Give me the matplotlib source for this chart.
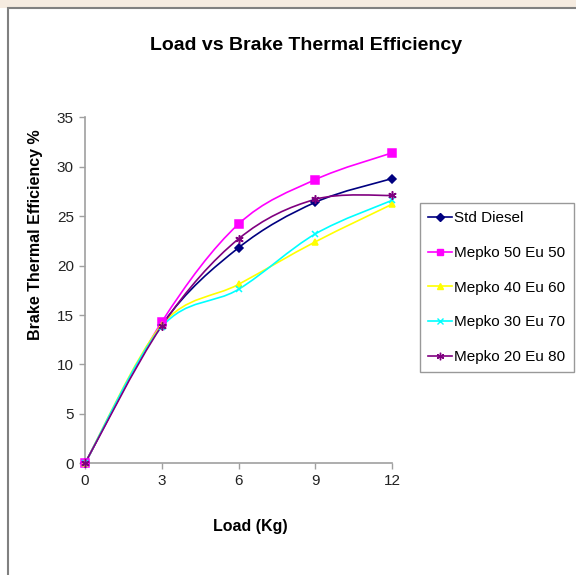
import matplotlib
matplotlib.use("Agg")
import matplotlib.pyplot as plt
from matplotlib.path import Path
from matplotlib.patches import PathPatch, Rectangle
from matplotlib.lines import Line2D
import numpy as np

plt.rcParams['font.family'] = ['Liberation Sans', 'DejaVu Sans']

load = [0, 3, 6, 9, 12]
std_diesel = [0, 14.0, 21.8, 26.4, 28.8]
mepko_50_eu_50 = [0, 14.3, 24.2, 28.7, 31.4]
mepko_40_eu_60 = [0, 14.0, 18.1, 22.4, 26.2]
mepko_30_eu_70 = [0, 13.8, 17.6, 23.2, 26.6]
mepko_20_eu_80 = [0, 13.9, 22.7, 26.7, 27.1]

series_names = ["Std Diesel", "Mepko 50 Eu 50", "Mepko 40 Eu 60",
                "Mepko 30 Eu 70", "Mepko 20 Eu 80"]
series_values = [std_diesel, mepko_50_eu_50, mepko_40_eu_60,
                 mepko_30_eu_70, mepko_20_eu_80]
colors = ["#000080", "#FF00FF", "#FFFF00", "#00FFFF", "#800080"]
markers = ["D", "s", "^", "x", (6, 2, 0)]
msizes = [4, 5.5, 5, 5, 6]

W, H = 576, 575
fig = plt.figure(figsize=(W / 100, H / 100), dpi=100)
fig.patch.set_facecolor("white")

# faint background above the chart frame
fig.patches.append(Rectangle((0, 1 - 8 / H), 1, 8 / H, transform=fig.transFigure,
                             facecolor="#f5ebe0", edgecolor="none", zorder=0))
# chart frame
fig.patches.append(Rectangle((7.5 / W, -0.05), 1.1, 1.05 - 8 / H,
                             transform=fig.transFigure, facecolor="none",
                             edgecolor="#808080", linewidth=1.5, zorder=1))

ax = fig.add_axes([85 / W, 1 - 463.3 / H, (392 - 85) / W, (463.3 - 117.3) / H])
ax.set_xlim(0, 12)
ax.set_ylim(0, 35)


def smooth_path(xs, ys):
    pts = np.column_stack([xs, ys]).astype(float)
    n = len(pts)
    verts = [pts[0]]
    codes = [Path.MOVETO]
    for i in range(n - 1):
        p0 = pts[i - 1] if i > 0 else pts[i]
        p1 = pts[i]
        p2 = pts[i + 1]
        p3 = pts[i + 2] if i + 2 < n else pts[i + 1]
        c1 = p1 + (p2 - p0) / 6.0
        c2 = p2 - (p3 - p1) / 6.0
        verts += [c1, c2, p2]
        codes += [Path.CURVE4] * 3
    return Path(verts, codes)


handles = []
for name, vals, c, m, ms in zip(series_names, series_values, colors, markers, msizes):
    ax.add_patch(PathPatch(smooth_path(load, vals), facecolor="none",
                           edgecolor=c, linewidth=1.2, clip_on=False, zorder=3))
    ax.plot(load, vals, linestyle="none", marker=m, color=c, markersize=ms,
            markeredgewidth=1.1, clip_on=False, zorder=4)
    handles.append(Line2D([], [], color=c, marker=m, markersize=ms * 0.9,
                          linewidth=1.2, markeredgewidth=1.0, label=name))

ax.set_xticks(load)
ax.set_yticks(range(0, 36, 5))
for s in ["top", "right"]:
    ax.spines[s].set_visible(False)
for s in ["left", "bottom"]:
    ax.spines[s].set_color("#a0a0a0")
    ax.spines[s].set_linewidth(1.2)
ax.tick_params(axis="both", direction="out", length=4, width=1.0,
               color="#a0a0a0", labelsize=11, labelcolor="#222222", pad=4)

ax.set_xlabel("Load (Kg)", fontsize=11.5, fontweight="bold")
ax.xaxis.set_label_coords((250 - 85) / 307, -(519 - 463.3) / 346)
ax.set_ylabel("Brake Thermal Efficiency %", fontsize=11.5, fontweight="bold")
ax.yaxis.set_label_coords((43 - 85) / 307, (463.3 - 235) / 346)

fig.text(306 / W, 1 - 46 / H, "Load vs Brake Thermal Efficiency",
         ha="center", va="center", fontsize=14, fontweight="bold")

leg = fig.legend(handles=handles, loc="upper left",
                 bbox_to_anchor=(420 / W, 1 - 203 / H), fontsize=11,
                 frameon=True, fancybox=False, borderaxespad=0,
                 labelspacing=1.35, handlelength=1.55, handletextpad=0.15,
                 borderpad=0.55)
leg.get_frame().set_edgecolor("#808080")
leg.get_frame().set_linewidth(1.0)

fig.savefig("out.png", dpi=100)
